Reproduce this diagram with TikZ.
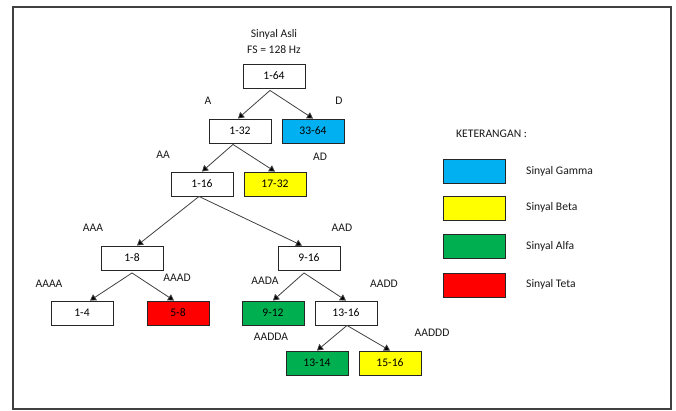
\documentclass[tikz,border=0pt]{standalone}
\usepackage{fontspec}
\setmainfont{Carlito}
\usetikzlibrary{arrows.meta}
\definecolor{cgamma}{HTML}{00B0F0}
\definecolor{cbeta}{HTML}{FFFF00}
\definecolor{calfa}{HTML}{00B050}
\definecolor{cteta}{HTML}{FF0000}
\definecolor{edge}{HTML}{404040}
\begin{document}
\begin{tikzpicture}[x=1pt,y=-1pt,
  font=\fontsize{11.6}{13}\selectfont,
  box/.style={draw=black!85,line width=0.9pt,minimum width=62pt,minimum height=24pt,inner sep=0pt,fill=white},
  lbl/.style={inner sep=0pt,text=black!90},
  arr/.style={draw=edge,line width=0.8pt,-{Triangle[width=7pt,length=6pt,fill=black]}}]
\useasboundingbox (0,0) rectangle (676,410);
\draw[edge,line width=1.2pt] (13,7) rectangle (671,409);
% tree nodes
\node[box] (n164) at (274,76) {1-64};
\node[box] (n132) at (240,131) {1-32};
\node[box,fill=cgamma] (n3364) at (313,131) {33-64};
\node[box] (n116) at (202,184) {1-16};
\node[box,fill=cbeta] (n1732) at (275,184) {17-32};
\node[box] (n18) at (132,258) {1-8};
\node[box] (n916) at (309,258) {9-16};
\node[box] (n14) at (82,313) {1-4};
\node[box,fill=cteta] (n58) at (178,313) {5-8};
\node[box,fill=calfa] (n912) at (273,313) {9-12};
\node[box] (n1316) at (346,313) {13-16};
\node[box,fill=calfa] (n1314) at (317,363) {13-14};
\node[box,fill=cbeta] (n1516) at (390,363) {15-16};
% title
\node[lbl] (t1) at (274,34) {Sinyal Asli};
\node[lbl] (t2) at (274,50) {FS = 128 Hz};
% branch labels
\node[lbl] (lA) at (208,101) {A};
\node[lbl] (lD) at (339,101) {D};
\node[lbl] (lAA) at (163,155) {AA};
\node[lbl] (lAD) at (320,157) {AD};
\node[lbl] (lAAA) at (93,228) {AAA};
\node[lbl] (lAAD) at (342,228) {AAD};
\node[lbl] (lAAAA) at (49,284) {AAAA};
\node[lbl] (lAAAD) at (177,278) {AAAD};
\node[lbl] (lAADA) at (265,281) {AADA};
\node[lbl] (lAADD) at (384,284) {AADD};
\node[lbl] (lAADDA) at (271,337) {AADDA};
\node[lbl] (lAADDD) at (432,333) {AADDD};
% connectors
\draw[arr] ([xshift=-4pt,yshift=-2pt]n164.south) -- ([xshift=-2pt]n132.north);
\draw[arr] ([xshift=-4pt,yshift=-2pt]n164.south) -- (n3364.north);
\draw[arr] ([xshift=-7pt,yshift=-1pt]n132.south) -- (n116.north);
\draw[arr] ([xshift=-7pt,yshift=-1pt]n132.south) -- (n1732.north);
\draw[arr] ([xshift=-3pt]n116.south) -- ([xshift=5pt]n18.north);
\draw[arr] ([xshift=-3pt]n116.south) -- ([xshift=-7pt]n916.north);
\draw[arr] ([yshift=-2.5pt]n18.south) -- ([xshift=8pt]n14.north);
\draw[arr] ([yshift=-2.5pt]n18.south) -- ([xshift=-4pt]n58.north);
\draw[arr] ([xshift=-5pt,yshift=-2.5pt]n916.south) -- (n912.north);
\draw[arr] ([xshift=-5pt,yshift=-2.5pt]n916.south) -- (n1316.north);
\draw[arr] ([xshift=1pt]n1316.south) -- (n1314.north);
\draw[arr] ([xshift=1pt]n1316.south) -- (n1516.north);
% legend
\node[lbl,anchor=west] (ket) at (456,134) {KETERANGAN :};
\node[box,fill=cgamma] (g1) at (474.5,171) {};
\node[box,fill=cbeta] (g2) at (474.5,208) {};
\node[box,fill=calfa] (g3) at (474.5,246) {};
\node[box,fill=cteta] (g4) at (474.5,285) {};
\node[lbl,anchor=west] (s1) at (526,171) {Sinyal Gamma};
\node[lbl,anchor=west] (s2) at (526,207) {Sinyal Beta};
\node[lbl,anchor=west] (s3) at (526,246) {Sinyal Alfa};
\node[lbl,anchor=west] (s4) at (526,284) {Sinyal Teta};
\end{tikzpicture}
\end{document}
